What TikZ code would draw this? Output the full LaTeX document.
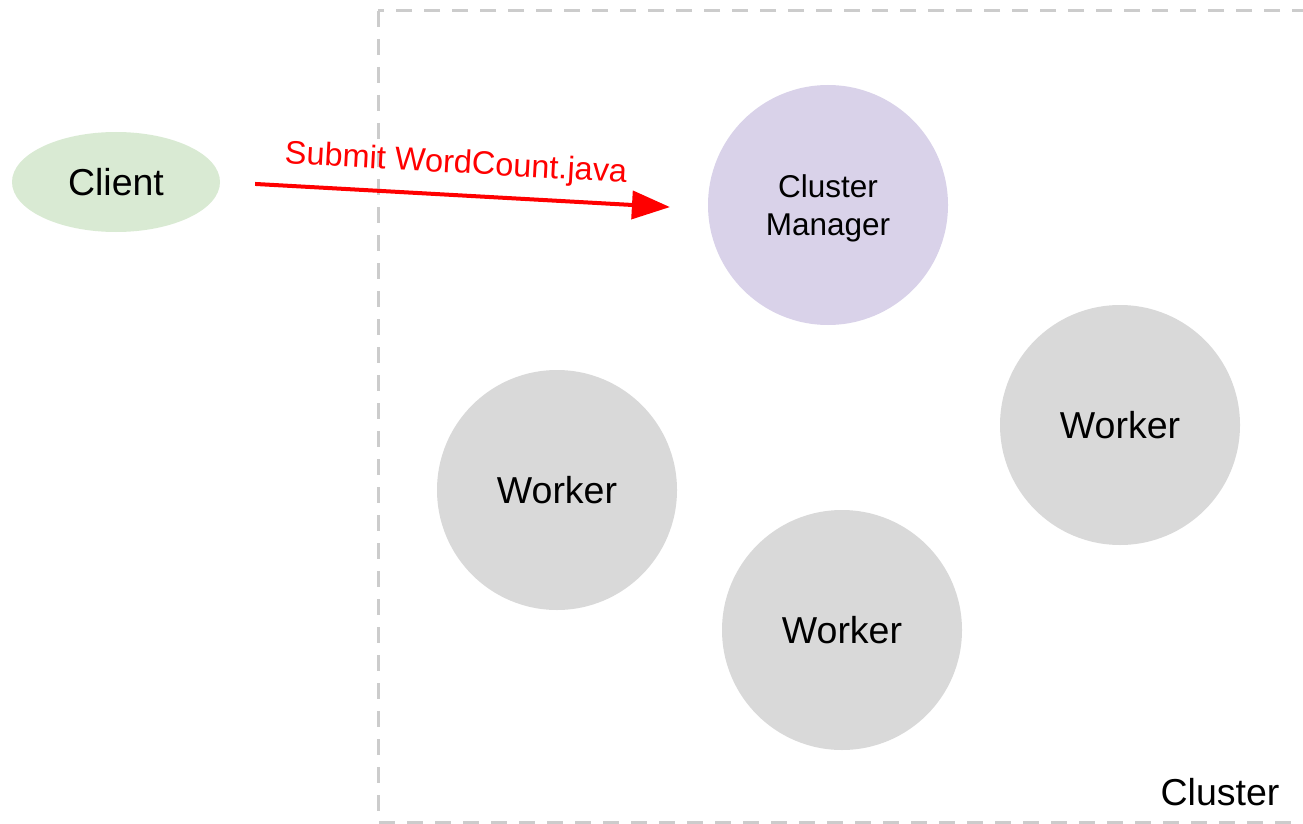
\documentclass[tikz,border=0pt]{standalone}
\usepackage{fontspec}
\setmainfont{Liberation Sans}
\usetikzlibrary{arrows.meta,shapes.geometric}
\definecolor{clientfill}{HTML}{D9EAD3}
\definecolor{managerfill}{HTML}{D9D2E9}
\definecolor{workerfill}{HTML}{D9D9D9}
\definecolor{clusterline}{HTML}{CCCCCC}
\tikzset{
  bigtext/.style={font=\fontsize{37.5}{42}\selectfont},
  worker/.style={circle, fill=workerfill, minimum size=240pt, inner sep=0pt, bigtext},
  manager/.style={circle, fill=managerfill, minimum size=240pt, inner sep=0pt},
  managertext/.style={align=center, font=\fontsize{31.5}{38}\selectfont, yshift=-3pt},
  clientnode/.style={ellipse, fill=clientfill, minimum width=208pt, minimum height=100pt, inner sep=0pt, bigtext},
  submit/.style={draw=red, line width=4pt, -{Triangle[length=38pt, width=28pt]}},
}
\begin{document}
\begin{tikzpicture}[x=1pt, y=-1pt]
  \useasboundingbox (0,0) rectangle (1303,824);
  \clip (0,0) rectangle (1303,824);

  % cluster boundary
  \draw[clusterline, line width=3pt, dash pattern=on 16pt off 12pt]
    (378,11) rectangle (1320,822);
  \node[bigtext, anchor=center] (clusterlabel) at (1220,792) {Cluster};

  % nodes
  \node[clientnode] (client) at (116,182) {Client};
  \node[manager, label={[managertext, name=managerlabel]center:Cluster\\Manager}] (manager) at (828,205) {};
  \node[worker] (w1) at (557,490) {Worker};
  \node[worker] (w2) at (1120,425) {Worker};
  \node[worker] (w3) at (842,630) {Worker};

  % job submission
  \draw[submit, shorten <=35pt, shorten >=38pt] (client.east) -- (manager.182)
    node[pos=0.48, sloped, above=10pt, text=red, font=\fontsize{32.5}{36}\selectfont] (submitlabel) {Submit WordCount.java};
\end{tikzpicture}
\end{document}
